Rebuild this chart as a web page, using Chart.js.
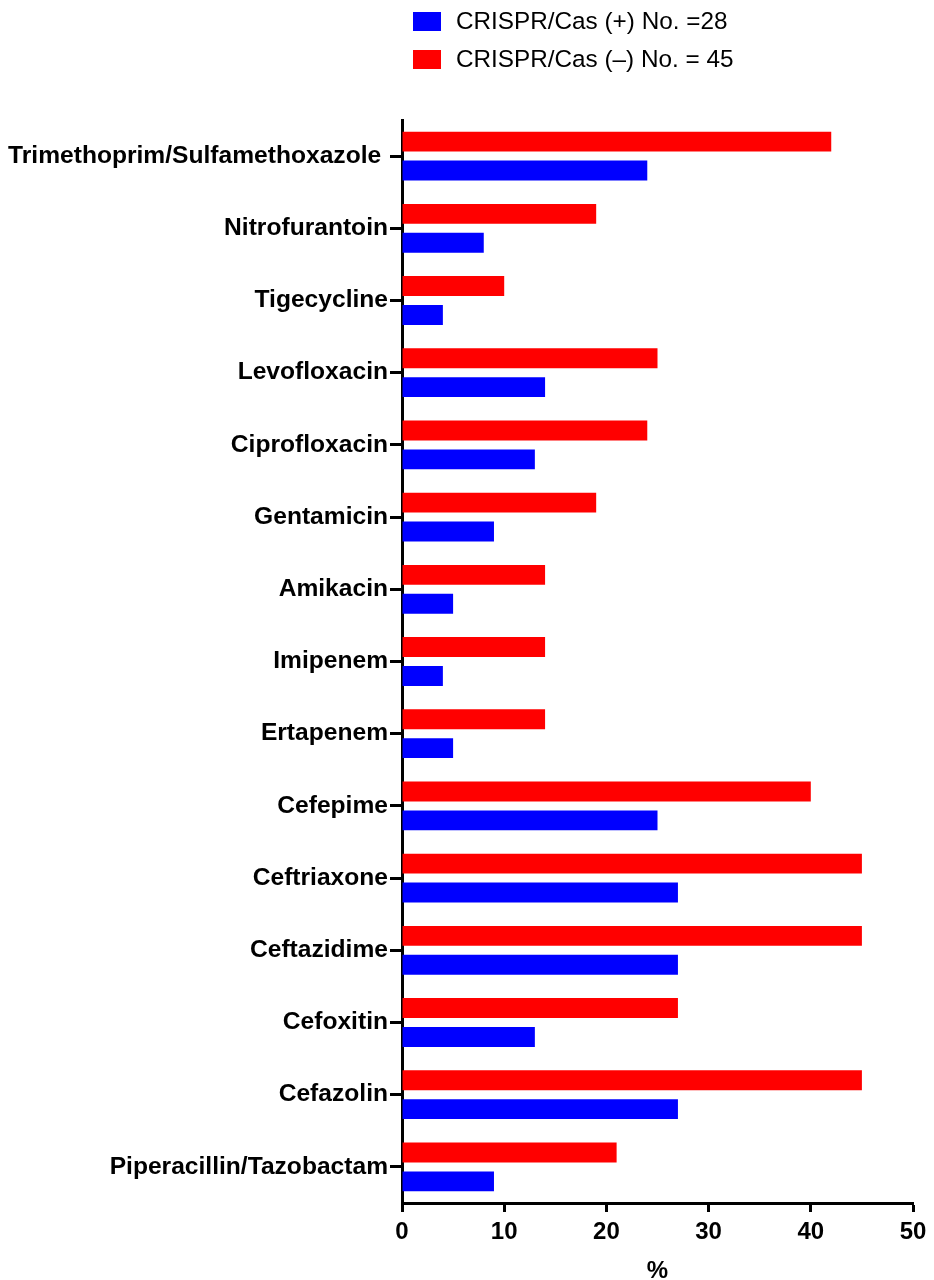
<!DOCTYPE html>
<html>
<head>
<meta charset="utf-8">
<script src="https://cdn.jsdelivr.net/npm/chart.js@4.4.1/dist/chart.umd.min.js"></script>
<style>
    body { margin: 0; background: #fff; }
    #wrap { position: relative; width: 934px; height: 1280px; }
    #legend { position: absolute; left: 413px; top: 2px; font: 24.3px "Liberation Sans", Arial, sans-serif; color: #000; }
    .item { display: flex; align-items: center; height: 38px; }
    .box { width: 28px; height: 19px; margin-right: 15px; }
</style>
</head>
<body>
<div id="wrap">
    <canvas id="resistChart" width="934" height="1280"></canvas>
    <div id="legend">
        <div class="item"><span class="box" style="background:#0000ff"></span>CRISPR/Cas (+) No. =28</div>
        <div class="item"><span class="box" style="background:#ff0000"></span>CRISPR/Cas (–) No. = 45</div>
    </div>
</div>
<script>
const antibiotics = [
    'Trimethoprim/Sulfamethoxazole ',
    'Nitrofurantoin',
    'Tigecycline',
    'Levofloxacin',
    'Ciprofloxacin',
    'Gentamicin',
    'Amikacin',
    'Imipenem',
    'Ertapenem',
    'Cefepime',
    'Ceftriaxone',
    'Ceftazidime',
    'Cefoxitin',
    'Cefazolin',
    'Piperacillin/Tazobactam'
];
const casPositive = [24, 8, 4, 14, 13, 9, 5, 4, 5, 25, 27, 27, 13, 27, 9];
const casNegative = [42, 19, 10, 25, 24, 19, 14, 14, 14, 40, 45, 45, 27, 45, 21];
const xTicks = [0, 10, 20, 30, 40, 50];

const labelFont = { family: '"Liberation Sans", Arial, sans-serif', size: 24.6, weight: 'bold' };
const tickFont = { family: '"Liberation Sans", Arial, sans-serif', size: 24, weight: 'bold' };

const ctx = document.getElementById('resistChart').getContext('2d');
const resistChart = new Chart(ctx, {
    type: 'bar',
    data: {
        labels: antibiotics,
        datasets: [{
            // red first so it sits above the blue bar in each group
            label: 'CRISPR/Cas (–) No. = 45',
            data: casNegative,
            backgroundColor: '#ff0000'
        }, {
            label: 'CRISPR/Cas (+) No. =28',
            data: casPositive,
            backgroundColor: '#0000ff'
        }]
    },
    options: {
        indexAxis: 'y',
        responsive: false,
        animation: false,
        categoryPercentage: 0.8,
        barPercentage: 0.69,
        layout: { padding: { top: 120, right: 21, left: 0, bottom: 0 } },
        plugins: {
            legend: { display: false },
            tooltip: { enabled: false }
        },
        scales: {
            x: {
                min: 0,
                max: 50,
                afterBuildTicks: scale => { scale.ticks = xTicks.map(v => ({ value: v })); },
                afterFit: scale => { scale.height = 77; },
                grid: { drawOnChartArea: false, tickLength: 9, tickWidth: 3, tickColor: '#000' },
                border: { color: '#000', width: 3 },
                ticks: { color: '#000', font: tickFont, padding: 6 },
                title: { display: true, text: '%', color: '#000', font: tickFont, padding: { top: 0, bottom: -6 } }
            },
            y: {
                afterFit: scale => { scale.width = 402; },
                grid: { offset: false, drawOnChartArea: false, tickLength: 12, tickWidth: 3, tickColor: '#000' },
                border: { color: '#000', width: 3 },
                ticks: { color: '#000', font: labelFont, padding: 2, autoSkip: false }
            }
        }
    }
});
</script>
</body>
</html>
